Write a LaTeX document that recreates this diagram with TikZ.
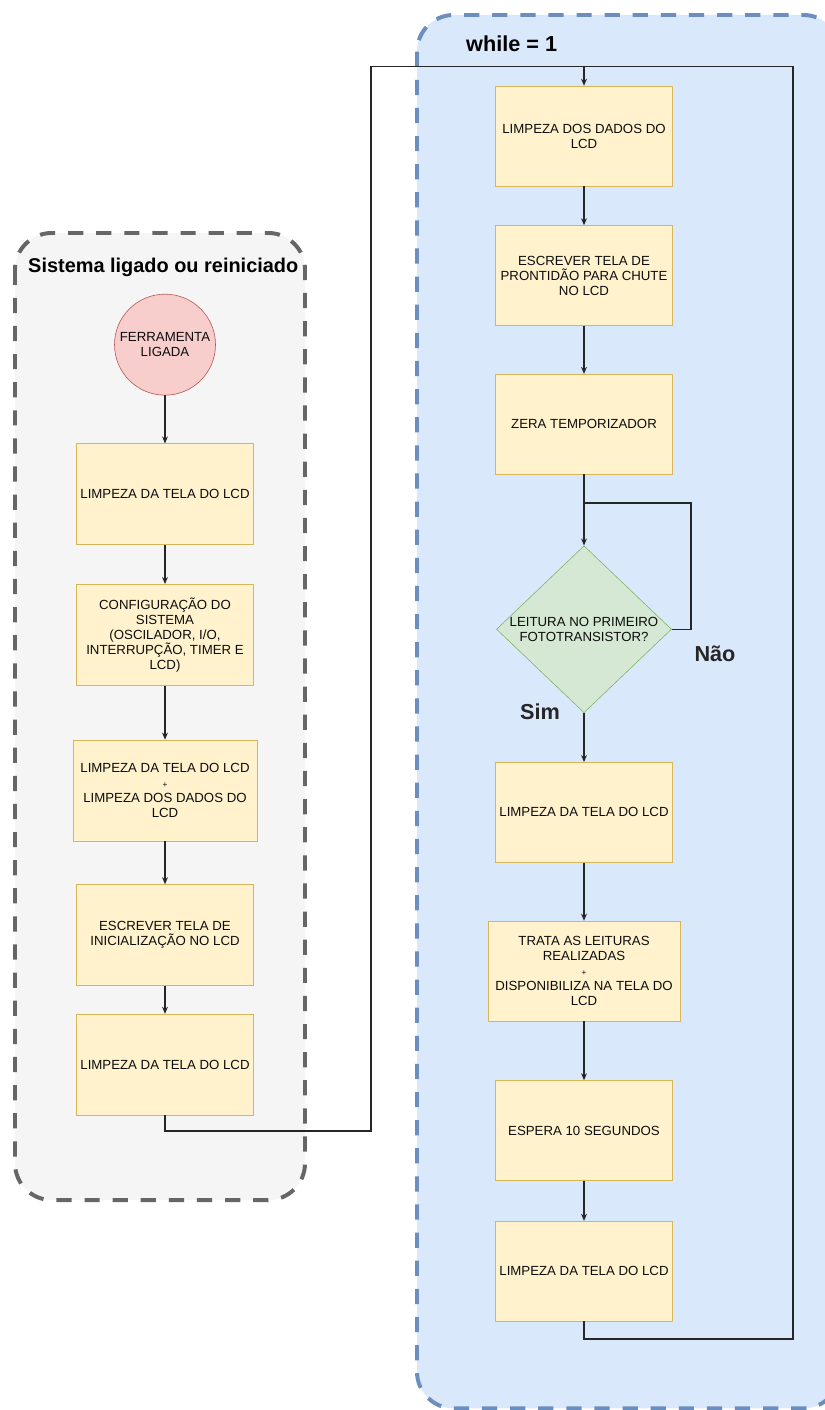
\documentclass[tikz,border=0pt]{standalone}
\usepackage{fontspec}
\setmainfont{Liberation Sans}
\usepackage{xcolor}
\usepackage{tikz}
\usetikzlibrary{arrows.meta, positioning, shapes.geometric}
\definecolor{grpgray}{HTML}{F5F5F5}
\definecolor{grpgrayline}{HTML}{666666}
\definecolor{grpblue}{HTML}{DAE8FC}
\definecolor{grpblueline}{HTML}{6C8EBF}
\definecolor{procfill}{HTML}{FFF2CC}
\definecolor{procline}{HTML}{D6B656}
\definecolor{startfill}{HTML}{F8CECC}
\definecolor{startline}{HTML}{B85450}
\definecolor{decfill}{HTML}{D5E8D4}
\definecolor{decline}{HTML}{82B366}
\newcommand{\procfont}{\fontsize{11.3}{12.8}\selectfont}
\newcommand{\plusfont}{\fontsize{7}{8}\selectfont}

\begin{document}
\begin{tikzpicture}[
  group/.style={rounded corners=1.1cm, line width=3.4pt, dash pattern=on 13pt off 11pt},
  proc/.style={rectangle, draw=procline, line width=0.5pt, fill=procfill,
               minimum width=5.31cm, minimum height=3.03cm, inner sep=1pt,
               font=\procfont, align=center, text=black!95},
  start/.style={circle, draw=startline, line width=0.5pt, fill=startfill,
                minimum size=3.03cm, inner sep=0pt, font=\procfont, align=center, text=black!95},
  decide/.style={diamond, draw=decline, line width=0.5pt, fill=decfill, shape aspect=1.05,
                 minimum width=5.25cm, minimum height=5.01cm, inner sep=0pt,
                 font=\procfont, align=center, text=black!95},
  title/.style={anchor=west, inner sep=0pt, font=\fontsize{17}{20}\selectfont\bfseries},
  lbl/.style={inner sep=0pt, font=\fontsize{18.5}{22}\selectfont\bfseries, text=black!85},
  arrow/.style={-{Stealth[length=6pt, width=5pt]}, line width=0.9pt, black!85},
  line/.style={line width=0.9pt, black!85}
]
\useasboundingbox (0,0) rectangle (24.75,-42.3);

% containers
\draw[group, draw=grpgrayline, fill=grpgray] (0.45,-6.99) rectangle (9.15,-36.0);
\draw[group, draw=grpblueline, fill=grpblue] (12.51,-0.45) rectangle (25.2,-42.25);
\node[title] (tsys) at (0.84,-8.01) {Sistema ligado ou reiniciado};
\node[title, font=\fontsize{18.5}{22}\selectfont\bfseries] (tloop) at (13.98,-1.305) {while = 1};

% startup
\node[start] (on) at (4.95,-10.34) {FERRAMENTA\\LIGADA};
\node[proc, below=1.44cm of on]   (clr1) {LIMPEZA DA TELA DO LCD};
\node[proc, below=1.17cm of clr1] (cfg)  {CONFIGURAÇÃO DO\\SISTEMA\\(OSCILADOR, I/O,\\INTERRUPÇÃO, TIMER E\\LCD)};
\node[proc, below=1.62cm of cfg, minimum width=5.52cm] (clr2) {LIMPEZA DA TELA DO LCD\\{\plusfont +}\\LIMPEZA DOS DADOS DO\\LCD};
\node[proc, below=1.29cm of clr2] (init) {ESCREVER TELA DE\\INICIALIZAÇÃO NO LCD};
\node[proc, below=0.84cm of init] (clr3) {LIMPEZA DA TELA DO LCD};

% main loop
\node[proc, minimum height=3cm] (rd1) at (17.52,-4.08) {LIMPEZA DOS DADOS DO\\LCD};
\node[proc, minimum height=3cm, below=1.17cm of rd1] (rd2) {ESCREVER TELA DE\\PRONTIDÃO PARA CHUTE\\NO LCD};
\node[proc, minimum height=3cm, below=1.44cm of rd2] (rd3) {ZERA TEMPORIZADOR};
\node[decide, below=2.13cm of rd3] (dec) {LEITURA NO PRIMEIRO\\FOTOTRANSISTOR?};
\node[proc, minimum height=3cm, below=1.47cm of dec] (rd4) {LIMPEZA DA TELA DO LCD};
\node[proc, minimum height=3cm, minimum width=5.76cm, below=1.74cm of rd4] (rd5) {TRATA AS LEITURAS\\REALIZADAS\\{\plusfont +}\\DISPONIBILIZA NA TELA DO\\LCD};
\node[proc, minimum height=3cm, below=1.77cm of rd5] (rd6) {ESPERA 10 SEGUNDOS};
\node[proc, minimum height=3cm, below=1.2cm of rd6]  (rd7) {LIMPEZA DA TELA DO LCD};

\node[lbl] (sim) at (16.2,-21.36) {Sim};
\node[lbl] (nao) at (21.45,-19.62) {Não};

\coordinate[above=0.57cm of rd1] (join);
\coordinate (passL) at (11.13,-33.93);
\coordinate (passR) at (23.79,-40.17);
\coordinate (loopT) at (20.73,-15.09);

\draw[arrow] (on) -- (clr1);
\draw[arrow] (clr1) -- (cfg);
\draw[arrow] (cfg) -- (clr2);
\draw[arrow] (clr2) -- (init);
\draw[arrow] (init) -- (clr3);
\draw[arrow] (clr3.south) |- (passL) |- (join) -- (rd1);

\draw[arrow] (rd1) -- (rd2);
\draw[arrow] (rd2) -- (rd3);
\draw[arrow] (rd3) -- (dec);
\draw[line] (dec.east) -| (loopT) -- (loopT -| dec.north);
\draw[arrow] (dec) -- (rd4);
\draw[arrow] (rd4) -- (rd5);
\draw[arrow] (rd5) -- (rd6);
\draw[arrow] (rd6) -- (rd7);
\draw[line] (rd7.south) |- (passR) |- (join);
\end{tikzpicture}
\end{document}
